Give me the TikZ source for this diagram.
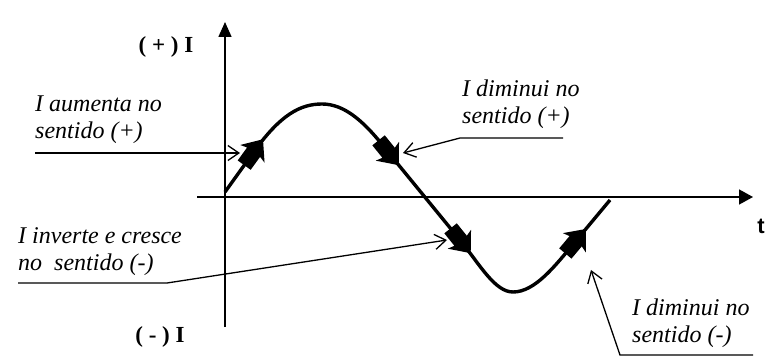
\documentclass[tikz,border=0pt]{standalone}
\usepackage{fontspec}
\setmainfont{Liberation Serif}
\setsansfont{Liberation Sans}
\usetikzlibrary{arrows.meta,calc}

\begin{document}
\begin{tikzpicture}[x=1pt,y=-1pt,
  axis/.style={line width=1.6pt},
  wave/.style={line width=3.4pt,line join=round},
  dirmark/.pic={\fill (17,0)--(-1,-15)--(1,-8)--(-15,-8)--(-15,8)--(1,8)--(-1,15)--cycle;},
  lead/.style={line width=1.3pt,-{Straight Barb[length=11pt,width=15pt,line width=1.3pt]}},
  note/.style={font=\fontsize{24}{27}\selectfont\itshape,align=left,inner sep=0pt,anchor=north west},
  ilbl/.style={font=\fontsize{23}{24}\selectfont\bfseries,inner sep=0pt}]
  \useasboundingbox (0,0) rectangle (766,358);
  % axes
  \coordinate (ybot) at (225,327); \coordinate (ytop) at (225,22);
  \coordinate (xl) at (197,197); \coordinate (xr) at (753,197);
  \draw[axis,-{Triangle[length=15pt,width=13pt]}] (ybot)--(ytop);
  \draw[axis,-{Triangle[length=14pt,width=15pt]}] (xl)--(xr);
  \node[ilbl] (ip) at (166,47) {( + ) I};
  \node[ilbl] (im) at (160,337) {( - ) I};
  \node[ilbl,font=\fontsize{22}{24}\selectfont\sffamily\bfseries] (tt) at (761,226) {t};
  % wave with direction marks
  \coordinate (w0) at (225,192); \coordinate (w1) at (610,200);
  \coordinate (a1) at (253,153); \coordinate (a2) at (388,152);
  \coordinate (a3) at (460,240); \coordinate (a4) at (575,242);
  \coordinate (pk) at (322,104); \coordinate (tr) at (513,292);
  \draw[wave] (w0)--(a1) .. controls (280,115) and (300,104) .. (pk)
    .. controls (345,104) and (365,122) .. (a2) -- (a3)
    .. controls (480,265) and (495,292) .. (tr)
    .. controls (535,292) and (555,266) .. (a4) -- (w1);
  \path (a1) pic[rotate=54] {dirmark};
  \path (a2) pic[rotate=-51] {dirmark};
  \path (a3) pic[rotate=-51] {dirmark};
  \path (a4) pic[rotate=50] {dirmark};
  % notes
  \node[note] (na) at (35,96) {I aumenta no\\sentido (+)};
  \node[note] (nb) at (462,80) {I diminui no\\sentido (+)};
  \node[note] (nc) at (18,227) {I inverte e cresce\\no\ \ sentido (-)};
  \node[note] (nd) at (632,299) {I diminui no\\sentido (-)};
  \coordinate (p1) at (240,153); \coordinate (p2) at (403,153);
  \coordinate (p3) at (447,240); \coordinate (p4) at (591,270);
  \coordinate (k1) at (35,153);
  \coordinate (k2) at (563,138); \coordinate (k2b) at (460,138);
  \coordinate (k3) at (18,283); \coordinate (k3b) at (167,283);
  \coordinate (k4) at (753,355); \coordinate (k4b) at (620,355);
  \draw[lead] (k1)--(p1);
  \draw[lead] (k2)--(k2b)--(p2);
  \draw[lead] (k3)--(k3b)--(p3);
  \draw[lead] (k4)--(k4b)--(p4);
\end{tikzpicture}
\end{document}
